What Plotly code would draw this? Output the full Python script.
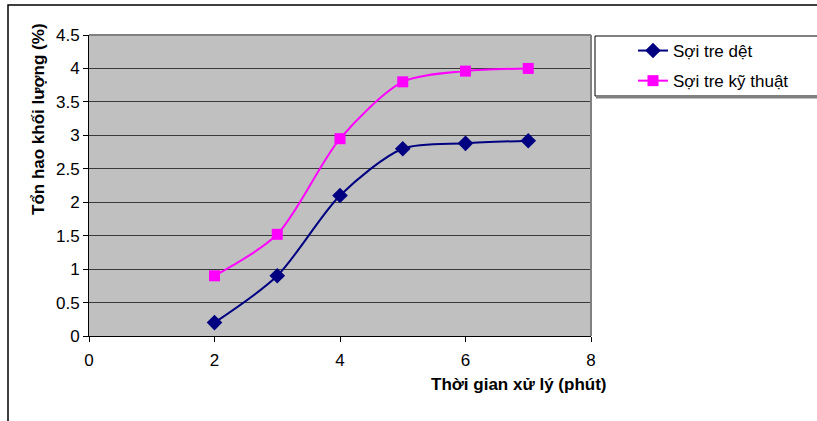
import plotly.graph_objects as go

x_vals = [2, 3, 4, 5, 6, 7]
det_vals = [0.2, 0.9, 2.1, 2.8, 2.88, 2.92]
kt_vals = [0.9, 1.52, 2.95, 3.8, 3.96, 4.0]
series_names = ["Sợi tre dệt", "Sợi tre kỹ thuật"]
x_title = "Thời gian xử lý (phút)"
y_title = "Tổn hao khối lượng (%)"

W, H = 817, 421
L, R, T, B = 89, 591, 35, 336

def px(xp):
    return (xp - L) / (R - L)

def py(yp):
    return (B - yp) / (B - T)

font = "Liberation Sans, Arial, sans-serif"
FS = 17

fig = go.Figure()
fig.add_trace(go.Scatter(
    x=x_vals, y=det_vals, name=series_names[0], mode="lines+markers", legendgroup="g1",
    line=dict(color="#000080", width=2, shape="spline", smoothing=0.8),
    marker=dict(symbol="diamond", size=12, color="#000080"),
))
fig.add_trace(go.Scatter(
    x=x_vals, y=kt_vals, name=series_names[1], mode="lines+markers", legendgroup="g2",
    line=dict(color="#FF00FF", width=2, shape="spline", smoothing=0.8),
    marker=dict(symbol="square", size=11, color="#FF00FF"),
))

shapes = [
    # outer chart border
    dict(type="rect", xref="paper", yref="paper", x0=px(8), x1=px(900), y0=py(600), y1=py(5),
         line=dict(color="#000000", width=1.5), layer="below"),
    # plot area top/right gray border
    dict(type="line", xref="paper", yref="paper", x0=0, x1=1, y0=1, y1=1,
         line=dict(color="#808080", width=2)),
    dict(type="line", xref="paper", yref="paper", x0=1, x1=1, y0=0, y1=1,
         line=dict(color="#808080", width=2)),
    # legend box
    dict(type="rect", xref="paper", yref="paper", x0=px(595), x1=px(900), y0=py(96), y1=py(36),
         line=dict(color="#000000", width=1)),
    dict(type="line", xref="paper", yref="paper", x0=px(596), x1=px(900), y0=py(97.5), y1=py(97.5),
         line=dict(color="#808080", width=2)),
]

annotations = [
    dict(text="<b>" + y_title + "</b>", xref="paper", yref="paper", x=px(38), y=py(119),
         textangle=-90, showarrow=False, font=dict(family=font, size=FS, color="#000"),
         xanchor="center", yanchor="middle"),
    dict(text="<b>" + x_title + "</b>", xref="paper", yref="paper", x=px(609), y=py(384),
         showarrow=False, font=dict(family=font, size=FS, color="#000"),
         xanchor="right", yanchor="middle"),
]

fig.update_layout(
    width=W, height=H,
    margin=dict(l=L, r=W - R, t=T, b=H - B),
    paper_bgcolor="white", plot_bgcolor="#C0C0C0",
    font=dict(family=font, size=FS, color="#000"),
    showlegend=True,
    legend=dict(x=px(633), y=py(33), xanchor="left", yanchor="top",
                bgcolor="rgba(0,0,0,0)", borderwidth=0,
                font=dict(family=font, size=FS), tracegroupgap=5, itemwidth=30),
    shapes=shapes, annotations=annotations,
)
fig.update_xaxes(range=[0, 8], dtick=2, tick0=0, showgrid=False, zeroline=False,
                 showline=True, linecolor="#000", linewidth=1,
                 ticks="outside", ticklen=5, tickcolor="#000", ticklabelstandoff=4,
                 tickfont=dict(family=font, size=FS))
fig.update_yaxes(range=[0, 4.5], dtick=0.5, tick0=0, showgrid=True, gridcolor="#3a3a3a", gridwidth=1,
                 zeroline=False, showline=True, linecolor="#000", linewidth=1,
                 ticks="outside", ticklen=5, tickcolor="#000",
                 tickfont=dict(family=font, size=FS))

fig.write_html("out.html")
